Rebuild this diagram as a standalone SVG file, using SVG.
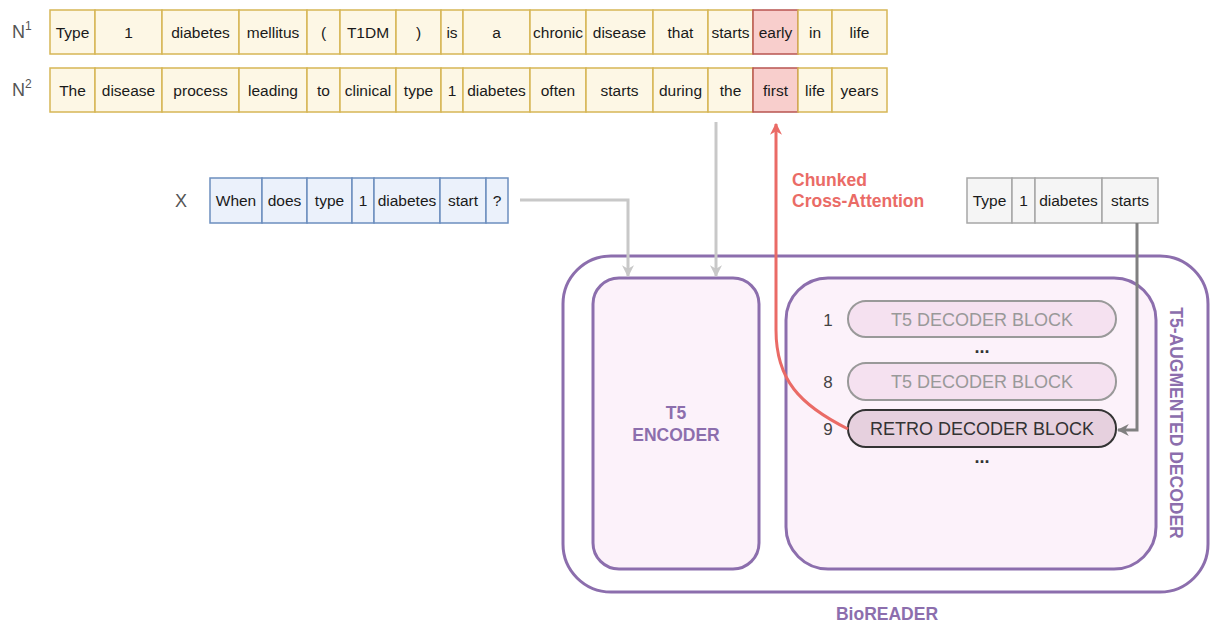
<svg xmlns="http://www.w3.org/2000/svg" width="1210" height="622" viewBox="0 0 1210 622">
<style>
text{font-family:"Liberation Sans",Arial,sans-serif}
.c{fill:#fdf7e5;stroke:#d6b656;stroke-width:1.5}
.h{fill:#f8cecc;stroke:#b85450;stroke-width:1.5}
.q{fill:#ebf1fb;stroke:#6c8ebf;stroke-width:1.5}
.g{fill:#f5f5f5;stroke:#a6a6a6;stroke-width:1.5}
.t{font-size:15.5px;fill:#1a1a1a;text-anchor:middle;dominant-baseline:central}
.lab{font-size:18px;fill:#555}
.pur{fill:#8c6ead;font-weight:bold;font-size:17.5px;text-anchor:middle}
.box{fill:#fcf2fa;stroke:#8c6ead;stroke-width:3}
.blk{fill:#f5e1f0;stroke:#999;stroke-width:2}
.bt{font-size:18px;fill:#999;text-anchor:middle;dominant-baseline:central}
.num{font-size:17px;fill:#444;text-anchor:middle;dominant-baseline:central}
.dots{font-size:18px;font-weight:bold;fill:#333;text-anchor:middle}
</style>
<defs>
<marker id="al" viewBox="0 0 10 10" refX="9" refY="5" markerWidth="4" markerHeight="4" orient="auto" markerUnits="strokeWidth"><path d="M0,0 L10,5 L0,10 L3,5 z" fill="#c8c8c8"/></marker>
<marker id="ad" viewBox="0 0 10 10" refX="9" refY="5" markerWidth="4" markerHeight="4" orient="auto" markerUnits="strokeWidth"><path d="M0,0 L10,5 L0,10 L3,5 z" fill="#808080"/></marker>
<marker id="ar" viewBox="0 0 10 10" refX="9" refY="5" markerWidth="4" markerHeight="4" orient="auto" markerUnits="strokeWidth"><path d="M0,0 L10,5 L0,10 L3,5 z" fill="#ea6b66"/></marker>
</defs>

<g id="n1">
<text class="lab" x="12" y="38">N<tspan font-size="12" dy="-8">1</tspan></text>
<rect class="c" x="50" y="10" width="45" height="44"/><text class="t" x="72.5" y="32">Type</text>
<rect class="c" x="95" y="10" width="67" height="44"/><text class="t" x="128.5" y="32">1</text>
<rect class="c" x="162" y="10" width="77" height="44"/><text class="t" x="200.5" y="32">diabetes</text>
<rect class="c" x="239" y="10" width="68" height="44"/><text class="t" x="273" y="32">mellitus</text>
<rect class="c" x="307" y="10" width="33" height="44"/><text class="t" x="323.5" y="32">(</text>
<rect class="c" x="340" y="10" width="56" height="44"/><text class="t" x="368" y="32">T1DM</text>
<rect class="c" x="396" y="10" width="45" height="44"/><text class="t" x="418.5" y="32">)</text>
<rect class="c" x="441" y="10" width="22" height="44"/><text class="t" x="452" y="32">is</text>
<rect class="c" x="463" y="10" width="67" height="44"/><text class="t" x="496.5" y="32">a</text>
<rect class="c" x="530" y="10" width="56" height="44"/><text class="t" x="558" y="32">chronic</text>
<rect class="c" x="586" y="10" width="67" height="44"/><text class="t" x="619.5" y="32">disease</text>
<rect class="c" x="653" y="10" width="55" height="44"/><text class="t" x="680.5" y="32">that</text>
<rect class="c" x="708" y="10" width="45" height="44"/><text class="t" x="730.5" y="32">starts</text>
<rect class="h" x="753" y="10" width="45" height="44"/><text class="t" x="775.5" y="32">early</text>
<rect class="c" x="798" y="10" width="34" height="44"/><text class="t" x="815" y="32">in</text>
<rect class="c" x="832" y="10" width="55" height="44"/><text class="t" x="859.5" y="32">life</text>
</g>

<g id="n2">
<text class="lab" x="12" y="96">N<tspan font-size="12" dy="-8">2</tspan></text>
<rect class="c" x="50" y="68" width="45" height="44"/><text class="t" x="72.5" y="90">The</text>
<rect class="c" x="95" y="68" width="67" height="44"/><text class="t" x="128.5" y="90">disease</text>
<rect class="c" x="162" y="68" width="77" height="44"/><text class="t" x="200.5" y="90">process</text>
<rect class="c" x="239" y="68" width="68" height="44"/><text class="t" x="273" y="90">leading</text>
<rect class="c" x="307" y="68" width="33" height="44"/><text class="t" x="323.5" y="90">to</text>
<rect class="c" x="340" y="68" width="56" height="44"/><text class="t" x="368" y="90">clinical</text>
<rect class="c" x="396" y="68" width="45" height="44"/><text class="t" x="418.5" y="90">type</text>
<rect class="c" x="441" y="68" width="22" height="44"/><text class="t" x="452" y="90">1</text>
<rect class="c" x="463" y="68" width="67" height="44"/><text class="t" x="496.5" y="90">diabetes</text>
<rect class="c" x="530" y="68" width="56" height="44"/><text class="t" x="558" y="90">often</text>
<rect class="c" x="586" y="68" width="67" height="44"/><text class="t" x="619.5" y="90">starts</text>
<rect class="c" x="653" y="68" width="55" height="44"/><text class="t" x="680.5" y="90">during</text>
<rect class="c" x="708" y="68" width="45" height="44"/><text class="t" x="730.5" y="90">the</text>
<rect class="h" x="753" y="68" width="45" height="44"/><text class="t" x="775.5" y="90">first</text>
<rect class="c" x="798" y="68" width="34" height="44"/><text class="t" x="815" y="90">life</text>
<rect class="c" x="832" y="68" width="55" height="44"/><text class="t" x="859.5" y="90">years</text>
</g>

<g id="x">
<text class="lab" x="175" y="207">X</text>
<rect class="q" x="210" y="178" width="52" height="45"/><text class="t" x="236" y="200.5">When</text>
<rect class="q" x="262" y="178" width="45" height="45"/><text class="t" x="284.5" y="200.5">does</text>
<rect class="q" x="307" y="178" width="45" height="45"/><text class="t" x="329.5" y="200.5">type</text>
<rect class="q" x="352" y="178" width="22" height="45"/><text class="t" x="363" y="200.5">1</text>
<rect class="q" x="374" y="178" width="66" height="45"/><text class="t" x="407" y="200.5">diabetes</text>
<rect class="q" x="440" y="178" width="46" height="45"/><text class="t" x="463" y="200.5">start</text>
<rect class="q" x="486" y="178" width="22" height="45"/><text class="t" x="497" y="200.5">?</text>
</g>

<g id="prefix">
<rect class="g" x="967" y="178" width="45" height="45"/><text class="t" x="989.5" y="200.5">Type</text>
<rect class="g" x="1012" y="178" width="23" height="45"/><text class="t" x="1023.5" y="200.5">1</text>
<rect class="g" x="1035" y="178" width="67" height="45"/><text class="t" x="1068.5" y="200.5">diabetes</text>
<rect class="g" x="1102" y="178" width="56" height="45"/><text class="t" x="1130" y="200.5">starts</text>
</g>

<g id="bioreader">
<rect x="563" y="256" width="645" height="336" rx="48" fill="none" stroke="#8c6ead" stroke-width="3"/>
<text class="pur" x="887" y="620">BioREADER</text>
</g>

<g id="encoder">
<rect class="box" x="593" y="278" width="166" height="291" rx="26"/>
<text class="pur" x="676" y="419">T5</text>
<text class="pur" x="676" y="441">ENCODER</text>
</g>

<g id="decoder">
<rect class="box" x="786" y="278" width="370" height="291" rx="42"/>
<text class="pur" transform="translate(1170,423) rotate(90)" x="0" y="0">T5-AUGMENTED DECODER</text>
</g>

<g id="block1">
<text class="num" x="828" y="320">1</text>
<rect class="blk" x="848" y="301" width="268" height="36" rx="18"/>
<text class="bt" x="982" y="320">T5 DECODER BLOCK</text>
</g>
<text class="dots" x="982" y="353">...</text>
<g id="block8">
<text class="num" x="828" y="382">8</text>
<rect class="blk" x="848" y="363" width="268" height="37" rx="18"/>
<text class="bt" x="982" y="382">T5 DECODER BLOCK</text>
</g>
<g id="block9">
<text class="num" x="828" y="429">9</text>
<rect x="848" y="410" width="268" height="37" rx="18" fill="#e6d0de" stroke="#333" stroke-width="2"/>
<text class="bt" x="982" y="429" fill="#333" style="fill:#333">RETRO DECODER BLOCK</text>
</g>
<text class="dots" x="982" y="463">...</text>

<g id="connectors" fill="none" stroke-width="3">
<path d="M520,200 L628,200 L628,276" stroke="#c8c8c8" marker-end="url(#al)"/>
<path d="M716,122 L716,276" stroke="#c8c8c8" marker-end="url(#al)"/>
<path d="M1137,223 L1137,430 L1118,430" stroke="#808080" marker-end="url(#ad)"/>
<path d="M848,429 C800,405 776,380 776,330 L776,124" stroke="#ea6b66" marker-end="url(#ar)"/>
</g>
<g id="cca-label">
<text x="792" y="186" font-size="17.5" font-weight="bold" fill="#ea6b66">Chunked</text>
<text x="792" y="207" font-size="17.5" font-weight="bold" fill="#ea6b66">Cross-Attention</text>
</g>
</svg>
